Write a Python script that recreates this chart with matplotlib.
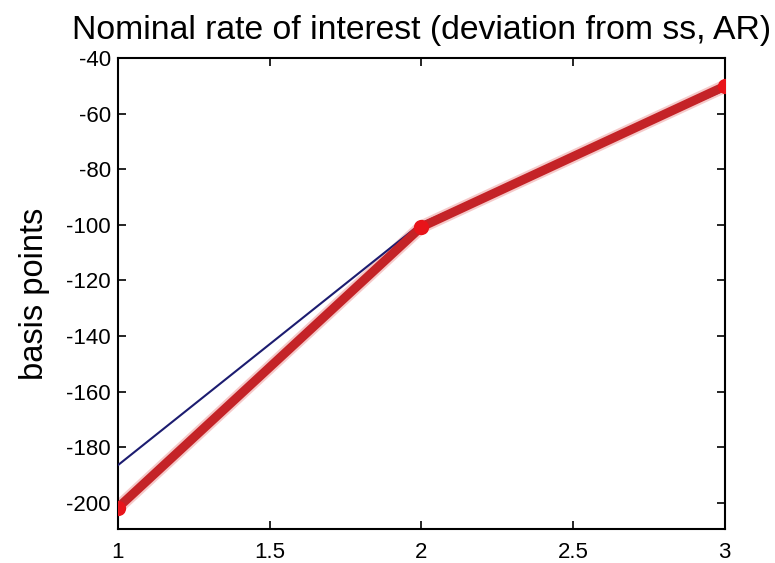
import matplotlib
matplotlib.use("Agg")
import matplotlib.pyplot as plt

# Impulse response of the nominal rate, two model variants
periods = [1, 2, 3]
rate_benchmark = [-186.5, -99.5, -51.5]
rate_ar = [-201.8, -100.8, -50.2]

x_ticks = [1, 1.5, 2, 2.5, 3]
y_ticks = [-40, -60, -80, -100, -120, -140, -160, -180, -200]

plt.rcParams["font.family"] = ["Liberation Sans", "DejaVu Sans"]
plt.rcParams["axes.unicode_minus"] = False

fig = plt.figure(figsize=(7.75, 5.63), dpi=100)
ax = fig.add_axes([0.152, 0.060, 0.783, 0.837])

ax.plot(periods, rate_benchmark, color="#1c1c70", linewidth=1.5, zorder=3)
# soft halo under the thick red line
ax.plot(periods, rate_ar, color="#e05050", linewidth=9.5, alpha=0.3,
        solid_capstyle="round", zorder=2)
ax.plot(periods, rate_ar, color="#c42327", linewidth=6.5,
        solid_capstyle="round", zorder=4)
ax.plot(periods, rate_ar, "o", color="#e8141a", markersize=11,
        markeredgewidth=0, zorder=5)

ax.set_xlim(1, 3)
ax.set_ylim(-209.5, -40)
ax.set_xticks(x_ticks)
ax.set_xticklabels([f"{v:g}" for v in x_ticks])
ax.set_yticks(y_ticks)
ax.tick_params(direction="in", top=True, right=True, length=6, width=1.2,
               labelsize=16)
ax.tick_params(axis="x", pad=9)
ax.tick_params(axis="y", pad=5)
for spine in ax.spines.values():
    spine.set_linewidth(1.5)

ax.set_title("Nominal rate of interest (deviation from ss, AR)",
             fontsize=24.3, pad=14)
ax.set_ylabel("basis points", fontsize=23.5, labelpad=12)

fig.savefig("out.png", dpi=100)
